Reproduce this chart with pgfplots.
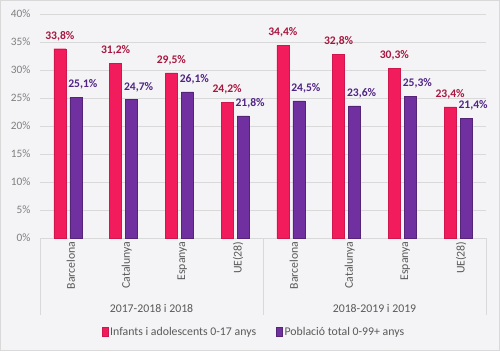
\documentclass[border=0pt]{standalone}
\usepackage{pgfplots}
\pgfplotsset{compat=1.18}
\usepackage{fontspec}
\setmainfont{Carlito}
\definecolor{bg}{HTML}{F4F4F6}
\definecolor{framec}{HTML}{D9D9D9}
\definecolor{gridc}{HTML}{D9D9D9}
\definecolor{tickc}{HTML}{7F7F7F}
\definecolor{textc}{HTML}{595959}
\definecolor{redc}{HTML}{F21B5B}
\definecolor{purc}{HTML}{7030A0}
\definecolor{redlab}{HTML}{A8163F}
\definecolor{purlab}{HTML}{4F2484}
\pgfplotsset{sqlegend/.style={legend image code/.code={\draw[##1, line width=0.4pt] (0pt,-4.5pt) rectangle (6pt,4.5pt);}}}
\begin{document}
\begin{tikzpicture}[x=1pt,y=1pt]
\fill[bg] (0,0) rectangle (500,351);
\draw[framec, line width=0.8pt] (0.4,0.4) rectangle (499.6,350.6);
\begin{axis}[
  at={(40pt,113pt)}, anchor=south west,
  scale only axis, width=446pt, height=224pt,
  xmin=-0.5, xmax=7.5, ymin=0, ymax=40,
  ybar=4pt, bar width=12pt,
  xtick={0,...,7},
  xticklabels={Barcelona,Catalunya,Espanya,UE(28),Barcelona,Catalunya,Espanya,UE(28)},
  xticklabel style={rotate=90, anchor=east, font=\fontsize{11.8}{13}\selectfont, text=textc, yshift=-3pt},
  ytick={0,5,...,40},
  yticklabel={\pgfmathprintnumber{\tick}\%},
  yticklabel style={font=\fontsize{11.3}{13}\selectfont, text=tickc, xshift=-6pt},
  /pgf/number format/assume math mode=true,
  axis line style={draw=none},
  major tick length=0pt,
  ymajorgrids, grid style={gridc, line width=0.7pt},
  clip=false,
  nodes near coords={\pgfmathprintnumber[fixed, fixed zerofill, precision=1, use comma]{\pgfplotspointmeta}\%},
  nodes near coords style={font=\bfseries\fontsize{11.6}{13}\selectfont, anchor=south, yshift=4.5pt},
  legend style={at={(axis description cs:0.5,0)}, anchor=center, xshift=-9pt, yshift=-94pt, draw=none, fill=none,
    font=\fontsize{11.8}{13}\selectfont, text=textc, legend columns=2,
    /tikz/every even column/.append style={column sep=18pt}},
]
\addplot[fill=redc, draw=redc!85!black, line width=0.4pt, every node near coord/.append style={text=redlab}, sqlegend]
  coordinates {(0,33.8) (1,31.2) (2,29.5) (3,24.2) (4,34.4) (5,32.8) (6,30.3) (7,23.4)};
\addplot[fill=purc, draw=purc!75!black, line width=0.4pt, every node near coord/.append style={text=purlab, xshift=7pt}, sqlegend]
  coordinates {(0,25.1) (1,24.7) (2,26.1) (3,21.8) (4,24.5) (5,23.6) (6,25.3) (7,21.4)};
\legend{Infants i adolescents 0-17 anys, Població total 0-99+ anys}
\draw[gridc, line width=0.7pt] (axis cs:-0.5,0) -- ++(0pt,-77pt);
\draw[gridc, line width=0.7pt] (axis cs:3.5,0) -- ++(0pt,-77pt);
\draw[gridc, line width=0.7pt] (axis cs:7.5,0) -- ++(0pt,-77pt);
\node[text=textc, font=\fontsize{11.8}{13}\selectfont, yshift=-70pt] at (axis cs:1.5,0) {2017-2018 i 2018};
\node[text=textc, font=\fontsize{11.8}{13}\selectfont, yshift=-70pt] at (axis cs:5.5,0) {2018-2019 i 2019};
\end{axis}
\end{tikzpicture}
\end{document}
